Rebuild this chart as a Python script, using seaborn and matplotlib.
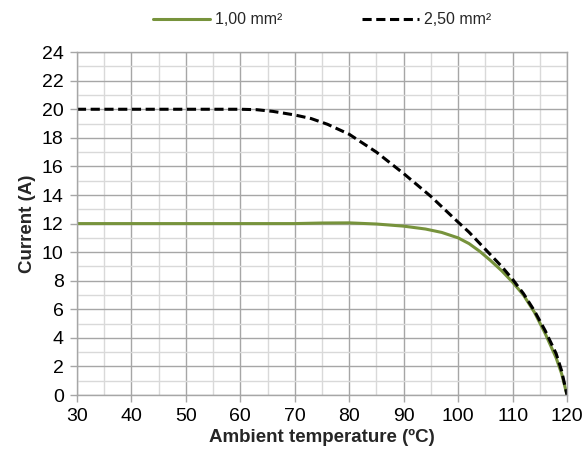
import matplotlib
matplotlib.use("Agg")
import matplotlib.pyplot as plt
import seaborn as sns
import pandas as pd
from matplotlib.ticker import MultipleLocator

temp_1 = [30, 40, 50, 60, 70, 75, 80, 85, 90, 94, 97, 100, 102, 104, 106, 108, 110, 112, 114, 116, 118, 119, 120]
curr_1 = [12.0, 12.0, 12.0, 12.0, 12.0, 12.04, 12.05, 11.97, 11.82, 11.62, 11.38, 11.0, 10.6, 10.05, 9.4, 8.7, 7.9, 7.0, 5.8, 4.3, 2.6, 1.5, 0.0]
temp_25 = [30, 40, 50, 60, 63, 66, 70, 73, 76, 80, 85, 90, 95, 100, 102, 104, 106, 108, 110, 112, 114, 116, 118, 119, 120]
curr_25 = [20.0, 20.0, 20.0, 20.0, 19.97, 19.85, 19.6, 19.35, 18.95, 18.25, 17.0, 15.5, 13.9, 12.1, 11.4, 10.6, 9.8, 9.0, 8.1, 7.1, 5.9, 4.5, 2.9, 1.7, 0.0]
labels = ["1,00 mm²", "2,50 mm²"]

df = pd.concat([
    pd.DataFrame({"t": temp_1, "c": curr_1, "s": labels[0]}),
    pd.DataFrame({"t": temp_25, "c": curr_25, "s": labels[1]}),
])

sns.set_theme(style="white")
plt.rcParams['font.family'] = ['Liberation Sans', 'DejaVu Sans']

fig = plt.figure(figsize=(5.87, 4.61), dpi=100)
ax = fig.add_axes([0.131, 0.143, 0.835, 0.744])

ax.xaxis.set_major_locator(MultipleLocator(10))
ax.xaxis.set_minor_locator(MultipleLocator(5))
ax.yaxis.set_major_locator(MultipleLocator(2))
ax.yaxis.set_minor_locator(MultipleLocator(1))
ax.grid(which="major", color="#a6a6a6", linewidth=1.0)
ax.grid(which="minor", color="#d9d9d9", linewidth=1.0)
ax.set_axisbelow(True)

sns.lineplot(data=df, x="t", y="c", hue="s", style="s",
             palette={labels[0]: "#77933C", labels[1]: "#000000"},
             dashes={labels[0]: "", labels[1]: (3, 1.5)},
             linewidth=2.2, ax=ax, sort=False)

ax.set_xlim(30, 120)
ax.set_ylim(0, 24)
for s in ax.spines.values():
    s.set_color("#a6a6a6")
    s.set_linewidth(1.0)
ax.tick_params(axis="both", which="major", direction="out", length=5, width=1,
               color="#a6a6a6", labelsize=14, bottom=True, left=True, pad=4.5, labelcolor="#000000")
ax.tick_params(which="minor", length=0)

ax.set_xlabel("Ambient temperature (ºC)", fontsize=13.5, fontweight="bold", labelpad=3)
ax.set_ylabel("Current (A)", fontsize=13.5, fontweight="bold", labelpad=4)

leg = ax.legend(loc="lower center", bbox_to_anchor=(0.5, 1.03), ncol=2, frameon=False,
                fontsize=11.5, handlelength=3.6, columnspacing=5.0, handletextpad=0.3)

fig.savefig("out.png", dpi=100)
